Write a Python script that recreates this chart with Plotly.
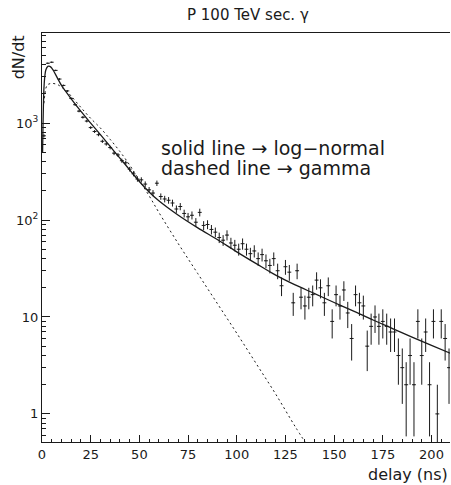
import plotly.graph_objects as go
import math

# ---- data ----
bin_width = 2.0
counts = [
    740, 4150, 4250, 3500, 2850, 2450, 2150, 1800, 1550, 1330,
    1150, 1050, 900, 820, 760, 650, 610, 560, 490, 470,
    410, 390, 335, 300, 265, 260, 235, 205, 190, 240,
    175, 165, 160, 150, 130, 138, 117, 108, 112, 95,
    120, 88, 90, 80, 75, 66, 62, 70, 58, 55,
    50, 57, 50, 45, 48, 40, 44, 38, 34, 40,
    30, 21, 33, 29, 14, 30, 16, 13, 16, 17,
    24, 20, 14, 21, 9, 17, 13, 19, 11, 6,
    17, 14, 13, 5, 8, 10, 8, 9, 8, 7,
    7, 4, 3, 2, 4, 2, 9, 4, 7, 2,
    9, 1, 9, 6, 3,
]
bin_centers = [bin_width * i + bin_width / 2 for i in range(len(counts))]

lognormal_t = [0.3, 0.5, 0.75, 1.0, 1.5, 2, 3, 4, 5, 6, 8, 10, 12, 15, 20, 25, 30, 35, 40, 45,
               50, 55, 60, 70, 80, 90, 100, 110, 120, 130, 140, 150, 160, 170, 180, 190, 200, 210]
lognormal_v = [500, 900, 1600, 2300, 3100, 3550, 3850, 3850, 3700, 3450, 2900, 2450, 2150, 1780,
               1320, 1000, 760, 575, 435, 330, 250, 195, 158, 112, 83, 63, 47, 35.5, 27, 21.4,
               17.4, 14.1, 11.5, 9.3, 7.6, 6.2, 5.1, 4.2]

gamma_t = [1, 1.5, 2, 3, 5, 8, 10, 12, 15, 20, 25, 30, 35, 40, 45, 50, 55, 60, 70, 80, 90,
           100, 110, 120, 130, 136]
gamma_v = [1600, 2000, 2300, 2500, 2570, 2500, 2350, 2200, 1900, 1450, 1120, 890, 680, 510,
           370, 257, 178, 120, 57, 28, 13.8, 6.8, 3.3, 1.6, 0.74, 0.48]

x_ticks = [0, 25, 50, 75, 100, 125, 150, 175, 200]
y_ticks = [1, 10, 100, 1000]
y_ticktext = ["1", "10", "10<sup>2</sup>", "10<sup>3</sup>"]

title_text = "P 100 TeV sec. γ"
note1 = "solid line → log−normal"
note2 = "dashed line → gamma"

# ---- figure ----
ink = "#1a1a1a"
FONT = "DejaVu Sans"

err_plus = [math.sqrt(c) for c in counts]
err_minus = [min(math.sqrt(c), c - 0.35) for c in counts]

fig = go.Figure()
fig.add_trace(go.Scatter(
    x=bin_centers, y=counts, mode="markers",
    marker=dict(size=1, color=ink),
    error_y=dict(type="data", array=err_plus, arrayminus=err_minus, symmetric=False,
                 width=0, thickness=1, color=ink),
    error_x=dict(type="constant", value=bin_width / 2, width=0, thickness=1, color=ink),
    showlegend=False, cliponaxis=True,
))
fig.add_trace(go.Scatter(
    x=lognormal_t, y=lognormal_v, mode="lines", line=dict(color=ink, width=1.3, shape="spline"),
    showlegend=False,
))
fig.add_trace(go.Scatter(
    x=gamma_t, y=gamma_v, mode="lines",
    line=dict(color=ink, width=1, dash="2px,3px", shape="spline"),
    showlegend=False,
))

y_minor = []
for dec in [0.1, 1, 10, 100, 1000]:
    for k in range(2, 10):
        v = k * dec
        if 0.5 < v < 8500:
            y_minor.append(v)

fig.update_layout(
    width=451, height=485,
    margin=dict(l=42, r=1, t=33, b=43),
    paper_bgcolor="white", plot_bgcolor="white",
    font=dict(family=FONT, color=ink),
    xaxis=dict(
        range=[0, 209.5], showgrid=False, zeroline=False,
        showline=True, linecolor=ink, linewidth=1, mirror=True,
        tickvals=x_ticks, ticks="inside", ticklen=7, tickcolor=ink, tickwidth=1,
        tickfont=dict(size=13, family=FONT, color=ink),
        minor=dict(dtick=5, tick0=0, ticks="inside", ticklen=3, tickcolor=ink, showgrid=False),
    ),
    yaxis=dict(
        type="log", range=[-0.29, 3.93], showgrid=False, zeroline=False,
        showline=True, linecolor=ink, linewidth=1,
        tickvals=y_ticks, ticktext=y_ticktext, ticks="inside", ticklen=8, tickcolor=ink,
        tickwidth=1, tickfont=dict(size=13, family=FONT, color=ink),
        minor=dict(tickvals=y_minor, ticks="inside", ticklen=4, tickcolor=ink, showgrid=False),
    ),
    annotations=[
        dict(text=title_text, xref="paper", yref="paper", x=0.505, y=1.043,
             xanchor="center", yanchor="middle", showarrow=False,
             font=dict(size=15, family=FONT, color=ink)),
        dict(text="dN/dt", xref="paper", yref="paper", x=-0.058, y=1.0,
             xanchor="center", yanchor="top", textangle=-90, showarrow=False,
             font=dict(size=16, family=FONT, color=ink)),
        dict(text="delay (ns)", xref="paper", yref="paper", x=1.0, y=-0.08,
             xanchor="right", yanchor="middle", showarrow=False,
             font=dict(size=16, family=FONT, color=ink)),
        dict(text=note1, xref="paper", yref="paper", x=0.287, y=0.719,
             xanchor="left", yanchor="middle", showarrow=False,
             font=dict(size=19, family=FONT, color=ink)),
        dict(text=note2, xref="paper", yref="paper", x=0.287, y=0.670,
             xanchor="left", yanchor="middle", showarrow=False,
             font=dict(size=19, family=FONT, color=ink)),
    ],
)

fig.write_html("out.html")
